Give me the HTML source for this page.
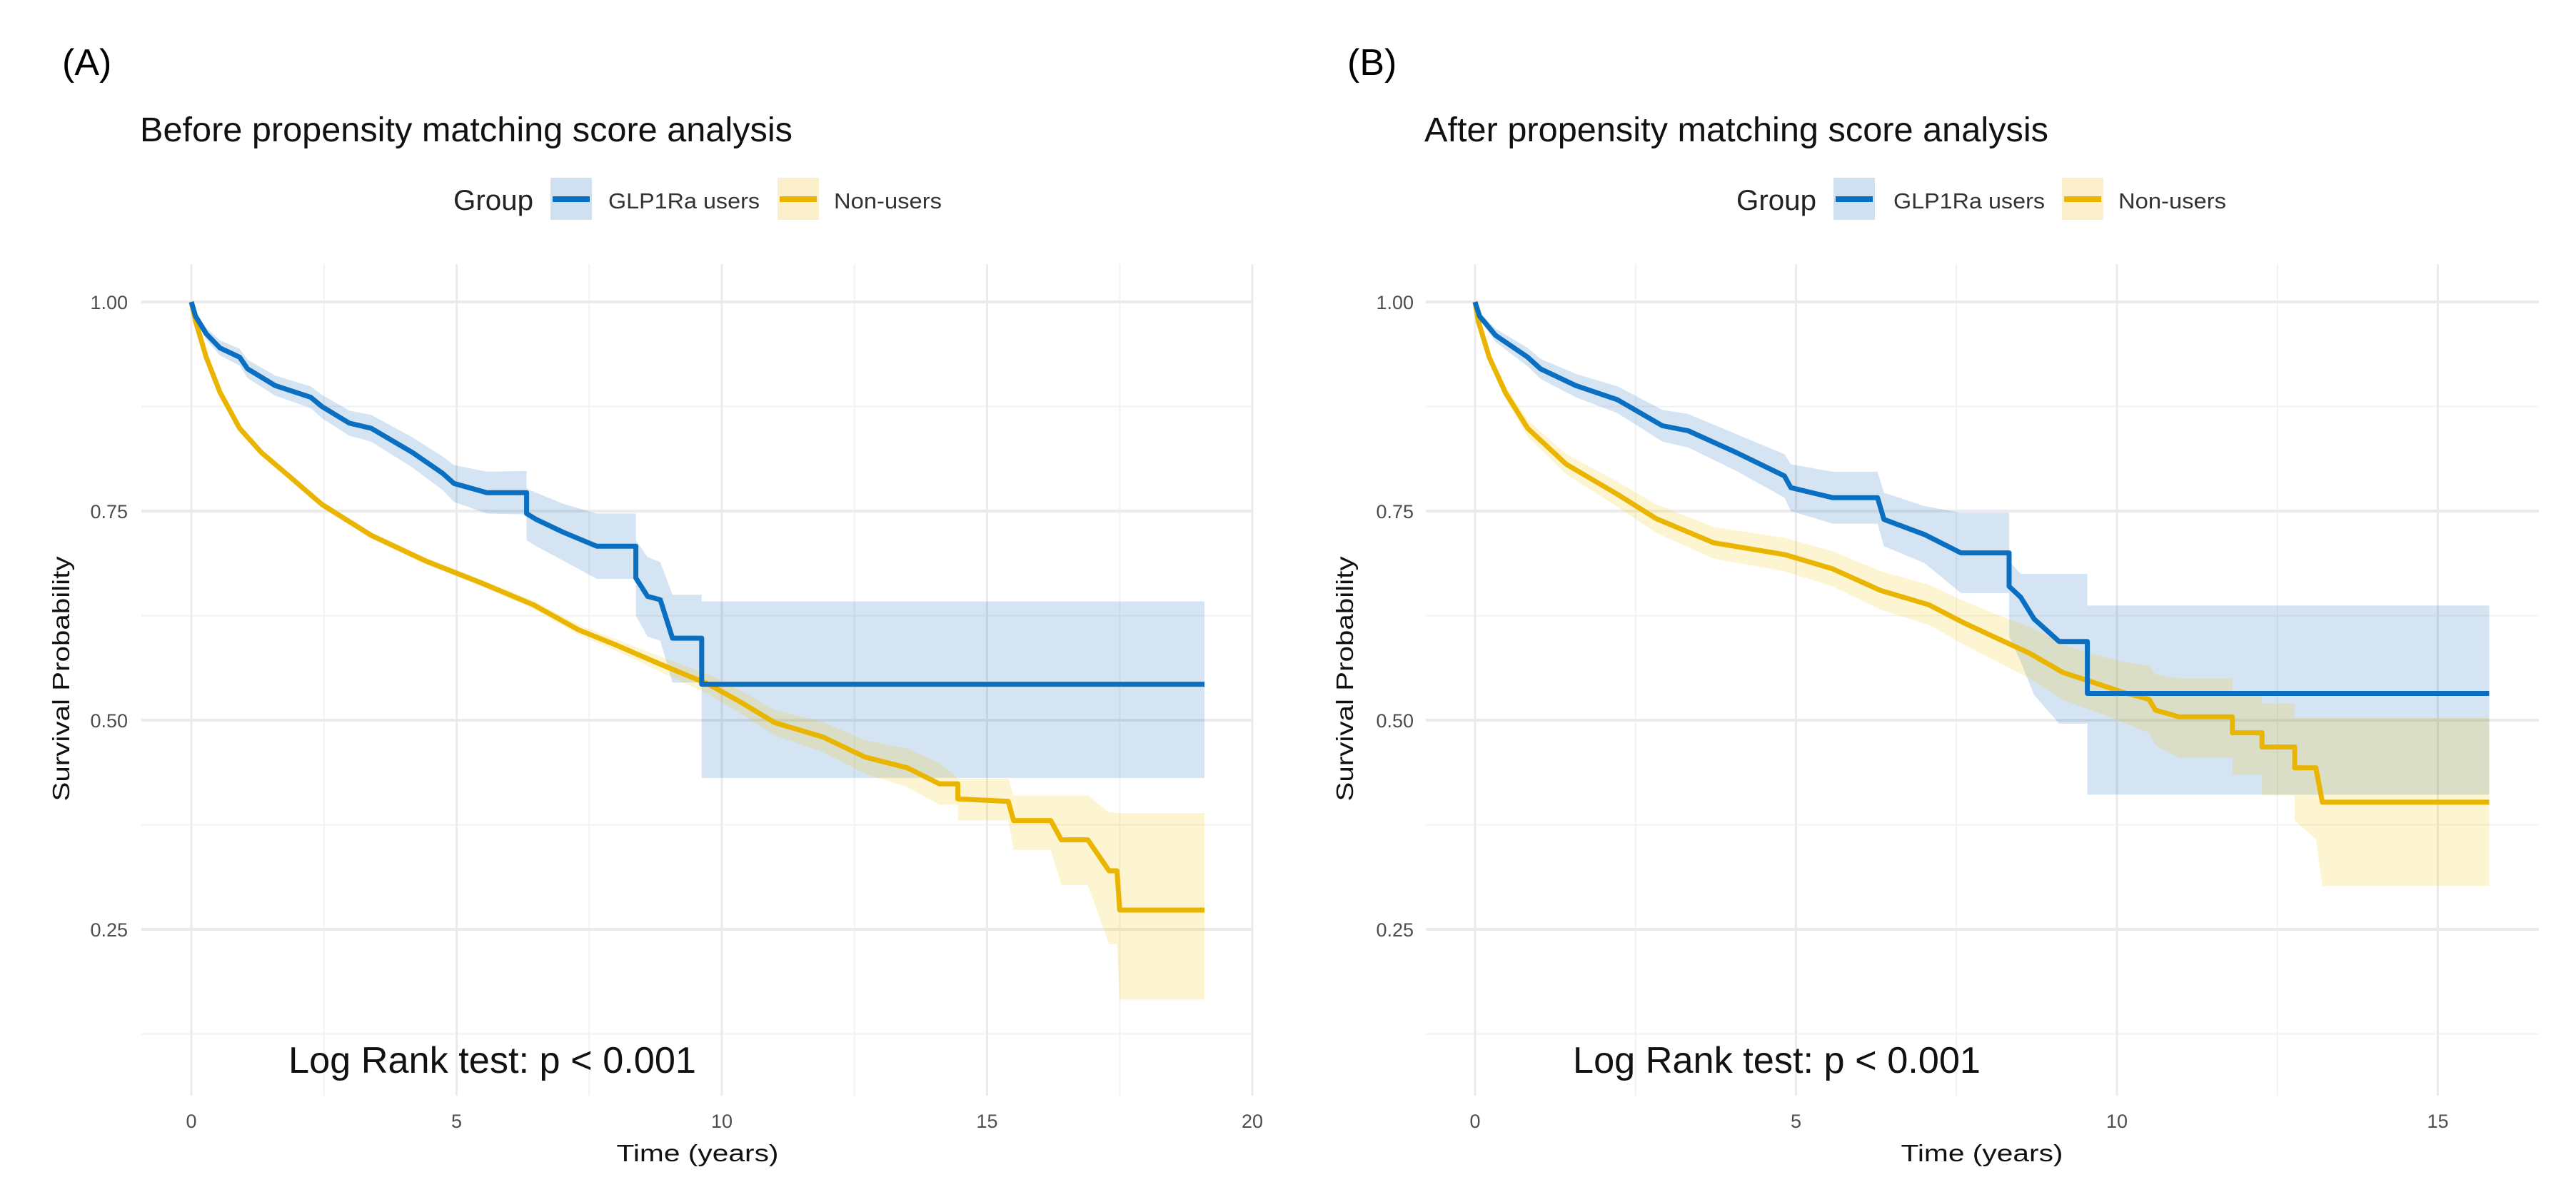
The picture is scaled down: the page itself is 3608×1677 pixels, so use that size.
<!DOCTYPE html>
<html><head><meta charset="utf-8"><style>
html,body{margin:0;padding:0;background:#fff;}
svg{display:block;font-family:"Liberation Sans",Arial,sans-serif;}
</style></head><body>
<svg id="fig" width="3608" height="1677" viewBox="0 0 3608 1677" xmlns="http://www.w3.org/2000/svg">
<g id="panelA"></g>
<g id="panelB"></g>
</svg>
<script>
// ---- Panel A data (before matching); repeated times = vertical drops ----
const aBlueT = [0,0.08,0.28,0.54,0.91,1.06,1.58,2.25,2.46,2.98,3.39,4.17,4.74,4.95,5.57,6.32,6.32,6.5,7.0,7.64,8.38,8.38,8.6,8.84,9.07,9.62,9.62,19.1];
const aBlueS = [1,0.983,0.962,0.945,0.934,0.92,0.90,0.886,0.875,0.855,0.849,0.82,0.795,0.783,0.772,0.772,0.747,0.74,0.725,0.708,0.708,0.67,0.648,0.644,0.598,0.598,0.543,0.543];
const aBlueU = [1,0.987,0.969,0.954,0.944,0.931,0.912,0.899,0.889,0.87,0.865,0.838,0.815,0.805,0.797,0.798,0.777,0.772,0.759,0.747,0.747,0.715,0.695,0.689,0.65,0.65,0.642,0.642];
const aBlueL = [1,0.979,0.955,0.936,0.924,0.909,0.888,0.873,0.861,0.84,0.833,0.802,0.775,0.761,0.747,0.746,0.715,0.708,0.691,0.669,0.669,0.625,0.60,0.595,0.545,0.545,0.431,0.431];
const aYelT = [0,0.08,0.28,0.54,0.91,1.32,1.84,2.46,3.39,4.43,5.47,6.45,7.3,8,8.84,9.75,10.4,11,11.9,12.7,13.5,14.1,14.45,14.45,15.4,15.5,16.2,16.4,16.9,17.3,17.45,17.5,19.1];
const aYelS = [1,0.977,0.934,0.892,0.849,0.82,0.792,0.758,0.721,0.69,0.664,0.638,0.608,0.59,0.567,0.543,0.52,0.497,0.48,0.456,0.443,0.424,0.424,0.406,0.403,0.38,0.38,0.357,0.357,0.32,0.32,0.273,0.273];
const aYelU = [1,0.979,0.937,0.895,0.852,0.823,0.795,0.762,0.725,0.694,0.668,0.643,0.614,0.597,0.576,0.555,0.534,0.512,0.498,0.476,0.466,0.449,0.43,0.43,0.43,0.41,0.41,0.41,0.41,0.39,0.389,0.389,0.389];
const aYelL = [1,0.975,0.931,0.889,0.846,0.817,0.789,0.754,0.717,0.686,0.66,0.633,0.602,0.583,0.558,0.531,0.506,0.482,0.462,0.436,0.42,0.399,0.399,0.38,0.38,0.345,0.345,0.303,0.303,0.232,0.232,0.166,0.166];
const aXTicks = [0,5,10,15,20];
const aXTickLabels = ["0","5","10","15","20"];
// ---- Panel B data (after matching) ----
const bBlueT = [0,0.07,0.32,0.82,1.02,1.57,2.22,2.92,3.32,4.07,4.82,4.92,5.57,6.27,6.37,7.0,7.57,8.32,8.32,8.5,8.71,9.1,9.54,9.54,15.8];
const bBlueS = [1,0.983,0.96,0.934,0.92,0.90,0.883,0.852,0.846,0.82,0.792,0.778,0.766,0.766,0.74,0.722,0.70,0.70,0.66,0.647,0.621,0.594,0.594,0.532,0.532];
const bBlueU = [1,0.987,0.968,0.945,0.932,0.914,0.899,0.871,0.866,0.842,0.818,0.806,0.797,0.797,0.772,0.756,0.748,0.748,0.69,0.675,0.675,0.675,0.675,0.637,0.637];
const bBlueL = [1,0.979,0.952,0.923,0.908,0.886,0.867,0.833,0.826,0.798,0.766,0.75,0.735,0.735,0.708,0.688,0.652,0.652,0.60,0.57,0.53,0.496,0.496,0.411,0.411];
const bYelT = [0,0.05,0.22,0.47,0.82,1.42,2.22,2.82,3.72,4.82,5.57,6.32,7.07,7.6,8.13,8.64,9.16,9.6,10.07,10.5,10.6,10.97,11.8,11.8,12.26,12.26,12.77,12.77,13.1,13.2,15.8];
const bYelS = [1,0.977,0.934,0.892,0.849,0.806,0.77,0.741,0.712,0.698,0.681,0.655,0.638,0.617,0.598,0.58,0.557,0.546,0.534,0.525,0.512,0.504,0.504,0.485,0.485,0.468,0.468,0.443,0.443,0.402,0.402];
const bYelU = [1,0.981,0.94,0.9,0.859,0.818,0.785,0.758,0.731,0.718,0.702,0.678,0.662,0.643,0.626,0.612,0.59,0.58,0.57,0.565,0.555,0.55,0.55,0.535,0.535,0.52,0.52,0.503,0.503,0.503,0.503];
const bYelL = [1,0.973,0.928,0.884,0.839,0.794,0.755,0.724,0.693,0.678,0.66,0.632,0.614,0.591,0.57,0.55,0.524,0.512,0.498,0.485,0.47,0.455,0.455,0.435,0.435,0.41,0.41,0.38,0.358,0.302,0.302];
const bXTicks = [0,5,10,15];
const bXTickLabels = ["0","5","10","15"];
const yTicks = [0.25,0.5,0.75,1.0];
const yTickLabels = ["0.25","0.50","0.75","1.00"];

const NS = "http://www.w3.org/2000/svg";
function mk(parent, tag, attrs, text){
  const e = document.createElementNS(NS, tag);
  for (const k in attrs) e.setAttribute(k, attrs[k]);
  if (text !== undefined) e.textContent = text;
  parent.appendChild(e);
  return e;
}
const yTop = 423, yPerUnit = 1172;
function yScale(s){ return yTop + (1 - s) * yPerUnit; }

function linePath(T, S, xs){
  let d = "";
  for (let i = 0; i < T.length; i++) d += (i ? " L" : "M") + xs(T[i]).toFixed(1) + "," + yScale(S[i]).toFixed(1);
  return d;
}
function bandPath(T, U, L, xs){
  let d = "";
  for (let i = 0; i < T.length; i++) d += (i ? " L" : "M") + xs(T[i]).toFixed(1) + "," + yScale(U[i]).toFixed(1);
  for (let i = T.length - 1; i >= 0; i--) d += " L" + xs(T[i]).toFixed(1) + "," + yScale(L[i]).toFixed(1);
  return d + " Z";
}

function drawPanel(g, cfg){
  const xs = t => cfg.x0 + t * cfg.pxPerYear;
  let e;
  e = mk(g, "text", {x: cfg.labelX, y: 105, "font-size": 52, fill: "#000"}, cfg.label);
  
  
  e = mk(g, "text", {x: cfg.titleX, y: 198, "font-size": 48, fill: "#111", textLength: cfg.titleW, lengthAdjust: "spacingAndGlyphs"}, cfg.title);
  
  
  const lg = mk(g, "g", {});
  
  
  e = mk(lg, "text", {x: cfg.legGroupX, y: 294, "font-size": 40, fill: "#222", textLength: 112, lengthAdjust: "spacingAndGlyphs"}, "Group");
  
  
  const keys = [
    {x: cfg.legK1, lx: cfg.legL1, lw: 212, fill: "#cfe0f1", stroke: "#0b6fc1", txt: "GLP1Ra users", name: "legend-entry-glp1ra-users"},
    {x: cfg.legK2, lx: cfg.legL2, lw: 151, fill: "#fcf0cc", stroke: "#e9b500", txt: "Non-users", name: "legend-entry-non-users"}
  ];
  keys.forEach(k => {
    const kg = mk(lg, "g", {});
    
    
    mk(kg, "rect", {x: k.x, y: 249, width: 58, height: 59, fill: k.fill});
    mk(kg, "line", {x1: k.x + 3, x2: k.x + 55, y1: 279, y2: 279, stroke: k.stroke, "stroke-width": 8});
    mk(kg, "text", {x: k.lx, y: 292, "font-size": 31, fill: "#333", textLength: k.lw, lengthAdjust: "spacingAndGlyphs"}, k.txt);
  });
  const grid = mk(g, "g", {});
  
  
  const top = 370, bottom = 1535;
  [0.125,0.375,0.625,0.875].forEach(v => mk(grid, "line", {x1: cfg.left, x2: cfg.right, y1: yScale(v), y2: yScale(v), stroke: "#f2f2f2", "stroke-width": 2}));
  cfg.minorX.forEach(v => mk(grid, "line", {x1: xs(v), x2: xs(v), y1: top, y2: bottom, stroke: "#f2f2f2", "stroke-width": 2}));
  yTicks.forEach(v => mk(grid, "line", {x1: cfg.left, x2: cfg.right, y1: yScale(v), y2: yScale(v), stroke: "#ebebeb", "stroke-width": 4}));
  cfg.xTicks.forEach(v => mk(grid, "line", {x1: xs(v), x2: xs(v), y1: top, y2: bottom, stroke: "#ebebeb", "stroke-width": 3}));
  yTicks.forEach((v, i) => {
    const t = mk(g, "text", {x: cfg.yTickRight, y: yScale(v) + 10, "font-size": 27, fill: "#4d4d4d", "text-anchor": "end"}, yTickLabels[i]);
    
    
  });
  cfg.xTicks.forEach((v, i) => {
    const t = mk(g, "text", {x: xs(v), y: 1580, "font-size": 27, fill: "#4d4d4d", "text-anchor": "middle"}, cfg.xTickLabels[i]);
    
    
  });
  e = mk(g, "text", {x: cfg.xTitleX, y: 1627, "font-size": 33, fill: "#111", "text-anchor": "middle", textLength: 227, lengthAdjust: "spacingAndGlyphs"}, "Time (years)");
  
  
  e = mk(g, "text", {x: 0, y: 0, "font-size": 33, fill: "#111", "text-anchor": "middle", transform: "translate(" + (cfg.yTitleX) + ",951) rotate(-90)", textLength: 343, lengthAdjust: "spacingAndGlyphs"}, "Survival Probability");
  
  
  e = mk(g, "path", {d: bandPath(cfg.bT, cfg.bU, cfg.bL, xs), fill: "#1f6fc0", "fill-opacity": 0.19});
  
  
  e = mk(g, "path", {d: bandPath(cfg.yT, cfg.yU, cfg.yL, xs), fill: "#f2c000", "fill-opacity": 0.18});
  
  
  e = mk(g, "path", {d: linePath(cfg.yT, cfg.yS, xs), fill: "none", stroke: "#e9b500", "stroke-width": 7, "stroke-linejoin": "round"});
  
  
  e = mk(g, "path", {d: linePath(cfg.bT, cfg.bS, xs), fill: "none", stroke: "#0b6fc1", "stroke-width": 7, "stroke-linejoin": "round"});
  
  
  e = mk(g, "text", {x: cfg.lrX, y: 1503, "font-size": 52, fill: "#111", textLength: 571, lengthAdjust: "spacingAndGlyphs"}, "Log Rank test: p < 0.001");
  
  
}

drawPanel(document.getElementById("panelA"), {
  x0: 268, pxPerYear: 74.3, left: 198, right: 1754,
  label: "(A)", labelX: 87, title: "Before propensity matching score analysis", titleX: 196, titleW: 914,
  legGroupX: 635, legK1: 771, legL1: 852, legK2: 1089, legL2: 1168,
  xTicks: aXTicks, xTickLabels: aXTickLabels, minorX: [2.5,7.5,12.5,17.5],
  yTickRight: 179, xTitleX: 977, yTitleX: 97, lrX: 404,
  bT: aBlueT, bS: aBlueS, bU: aBlueU, bL: aBlueL,
  yT: aYelT, yS: aYelS, yU: aYelU, yL: aYelL
});
drawPanel(document.getElementById("panelB"), {
  x0: 2066, pxPerYear: 89.9, left: 1997, right: 3556,
  label: "(B)", labelX: 1887, title: "After propensity matching score analysis", titleX: 1995, titleW: 874,
  legGroupX: 2432, legK1: 2568, legL1: 2652, legK2: 2888, legL2: 2967,
  xTicks: bXTicks, xTickLabels: bXTickLabels, minorX: [2.5,7.5,12.5],
  yTickRight: 1980, xTitleX: 2776, yTitleX: 1895, lrX: 2203,
  bT: bBlueT, bS: bBlueS, bU: bBlueU, bL: bBlueL,
  yT: bYelT, yS: bYelS, yU: bYelU, yL: bYelL
});
</script>
</body></html>
